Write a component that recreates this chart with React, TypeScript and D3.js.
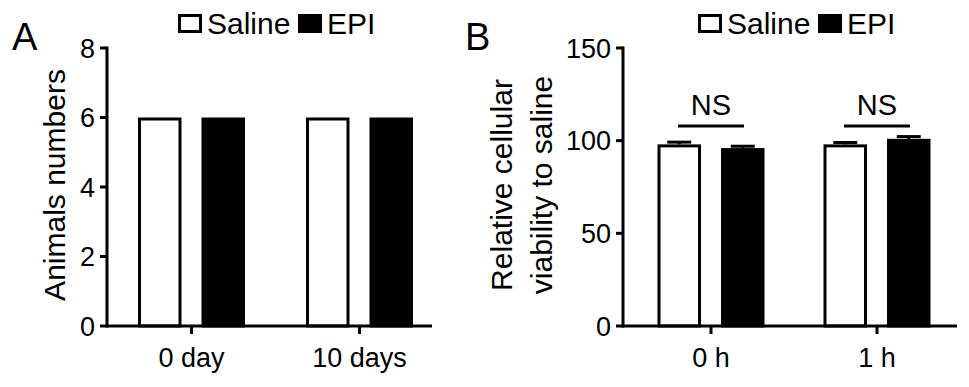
import * as d3 from 'd3';
import React from 'react';

// data
const seriesNames = ['Saline', 'EPI'];
const seriesFill = ['#ffffff', '#000000'];

const daysCategories = ['0 day', '10 days'];
const animalsSaline = [6, 6];
const animalsEpi = [6, 6];
const animalsTicks = [0, 2, 4, 6, 8];

const hourCategories = ['0 h', '1 h'];
const viabilitySaline = [98, 98];
const viabilityEpi = [96, 101];
const viabilitySalineErr = [1.2, 1];
const viabilityEpiErr = [1, 1.2];
const viabilityTicks = [0, 50, 100, 150];
const significance = ['NS', 'NS'];

const font = '"Liberation Sans", Arial, Helvetica, sans-serif';

type PanelProps = {
    letter: string;
    letterX: number;
    axisX: number;
    axisEnd: number;
    centers: [number, number];
    categories: string[];
    values: number[][];
    errors?: number[][];
    domain: [number, number];
    ticks: number[];
    titleLines: string[];
    titleX: number;
    legendX: number;
    marks?: string[];
};

function Panel(p: PanelProps) {
    const y = d3.scaleLinear().domain(p.domain).range([326, 48]);
    const x = d3.scalePoint<string>().domain(p.categories).range(p.centers);
    const inner = d3.scaleBand<string>().domain(seriesNames).range([-53.5, 53.5]).paddingInner(0.315);
    const bw = inner.bandwidth();
    const sw = 3;

    const legendItems = [
        { name: seriesNames[0], fill: seriesFill[0], bx: p.legendX, tx: p.legendX + 29 },
        { name: seriesNames[1], fill: seriesFill[1], bx: p.legendX + 120, tx: p.legendX + 149 },
    ];

    return (
        <g fontFamily={font} fill="#000">
            <text x={p.letterX} y={50} fontSize={38}>{p.letter}</text>

            {legendItems.map((l) => (
                <g key={l.name}>
                    <rect x={l.bx + 1.5} y={15.5} width={21} height={16} fill={l.fill} stroke="#000" strokeWidth={sw} />
                    <text x={l.tx} y={34} fontSize={30}>{l.name}</text>
                </g>
            ))}

            {p.categories.map((c, i) =>
                seriesNames.map((s, j) => {
                    const v = p.values[j][i];
                    const cx = (x(c) as number) + (inner(s) as number);
                    const top = y(v);
                    const err = p.errors ? p.errors[j][i] : 0;
                    return (
                        <g key={c + s}>
                            {err > 0 && (
                                <g stroke="#000" strokeWidth={sw}>
                                    <line x1={cx + bw / 2} x2={cx + bw / 2} y1={top} y2={y(v + err)} />
                                    <line x1={cx + bw / 2 - 12} x2={cx + bw / 2 + 12} y1={y(v + err)} y2={y(v + err)} />
                                </g>
                            )}
                            <rect
                                x={cx + sw / 2}
                                y={top + sw / 2}
                                width={bw - sw}
                                height={y(0) - top - sw / 2}
                                fill={seriesFill[j]}
                                stroke="#000"
                                strokeWidth={sw}
                            />
                        </g>
                    );
                })
            )}

            {p.marks && p.categories.map((c, i) => {
                const cx = x(c) as number;
                const ly = 126;
                return (
                    <g key={'m' + c}>
                        <line x1={cx - 33} x2={cx + 33} y1={ly} y2={ly} stroke="#000" strokeWidth={sw} />
                        <text x={cx} y={ly - 11} fontSize={29} textAnchor="middle">{p.marks![i]}</text>
                    </g>
                );
            })}

            {/* y axis */}
            <line x1={p.axisX} x2={p.axisX} y1={y(p.domain[1]) - 1.5} y2={y(0) + 1.5} stroke="#000" strokeWidth={sw} />
            {p.ticks.map((t) => (
                <g key={t}>
                    <line x1={p.axisX - 7} x2={p.axisX} y1={y(t)} y2={y(t)} stroke="#000" strokeWidth={sw} />
                    <text x={p.axisX - 12} y={y(t)} dy="0.36em" fontSize={27} textAnchor="end">{t}</text>
                </g>
            ))}

            {/* x axis */}
            <line x1={p.axisX} x2={p.axisEnd} y1={y(0)} y2={y(0)} stroke="#000" strokeWidth={sw} />
            {p.categories.map((c) => (
                <g key={'t' + c}>
                    <line x1={x(c)} x2={x(c)} y1={y(0)} y2={y(0) + 8} stroke="#000" strokeWidth={sw} />
                    <text x={x(c)} y={367} fontSize={27} textAnchor="middle">{c}</text>
                </g>
            ))}

            <g transform={`translate(${p.titleX},185) rotate(-90)`}>
                {p.titleLines.map((l, i) => (
                    <text key={l} x={0} y={i * 40} fontSize={30} textAnchor="middle">{l}</text>
                ))}
            </g>
        </g>
    );
}

export default function App() {
    return (
        <svg width={969} height={387} style={{ position: 'absolute', left: 0, top: 0, background: '#fff' }}>
            <rect width={969} height={387} fill="#fff" />
            <Panel
                letter="A"
                letterX={12}
                axisX={107}
                axisEnd={432}
                centers={[191.5, 359.5]}
                categories={daysCategories}
                values={[animalsSaline, animalsEpi]}
                domain={[0, 8]}
                ticks={animalsTicks}
                titleLines={['Animals numbers']}
                titleX={65}
                legendX={178}
            />
            <Panel
                letter="B"
                letterX={465}
                axisX={623}
                axisEnd={957}
                centers={[711, 877]}
                categories={hourCategories}
                values={[viabilitySaline, viabilityEpi]}
                errors={[viabilitySalineErr, viabilityEpiErr]}
                domain={[0, 150]}
                ticks={viabilityTicks}
                titleLines={['Relative cellular', 'viability to saline']}
                titleX={512}
                legendX={698}
                marks={significance}
            />
        </svg>
    );
}
